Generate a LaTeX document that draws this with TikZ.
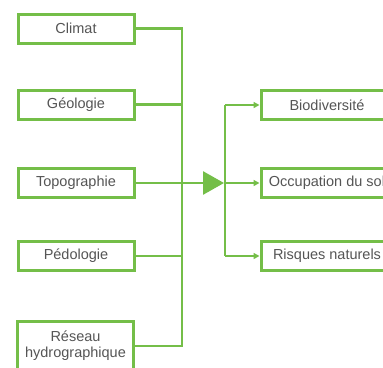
\documentclass[tikz,border=0pt]{standalone}
\usepackage{fontspec}
\setmainfont{Liberation Sans}
\usetikzlibrary{arrows.meta}
\definecolor{grn}{RGB}{116,190,72}
\definecolor{txt}{RGB}{85,85,85}
\tikzset{
  box/.style={draw=grn, line width=3pt, fill=white, minimum width=116pt, minimum height=29pt, inner sep=0pt, text=txt, font=\fontsize{14.5}{16}\selectfont, align=center},
  rbox/.style={box, minimum width=132pt},
  link/.style={draw=grn, line width=2.8pt},
}
\begin{document}
\begin{tikzpicture}[x=1pt,y=-1pt]
\useasboundingbox (0,0) rectangle (383,367);
\clip (0,0) rectangle (383,367);
\fill[white] (0,0) rectangle (383,367);
\coordinate (busA) at (182,0);
\coordinate (busB) at (225,0);
\node[box] (clim) at (76,28.5) {Climat};
\node[box] (geo) at (76,104.5) {Géologie};
\node[box] (topo) at (76,183) {Topographie};
\node[box] (pedo) at (76,256) {Pédologie};
\node[box, minimum height=50pt] (res) at (75.5,346) {Réseau\\hydrographique};
\node[rbox] (bio) at (327,105) {Biodiversité};
\node[rbox] (occ) at (327,183) {Occupation du sol};
\node[rbox] (ris) at (327,256) {Risques naturels};
\draw[link] (clim.east) -| (busA |- res.east) -- (res.east);
\draw[link] (geo.east) -- (busA |- geo.east);
\draw[link] (pedo.east) -- (busA |- pedo.east);
\draw[link, -{Triangle[length=21pt,width=23pt]}] (topo.east) -- ([xshift=-1pt]busB |- topo.east);
\draw[link] (busB |- bio.west) -- (busB |- ris.west);
\draw[link, -{Triangle[length=6pt,width=6pt]}] (busB |- bio.west) -- (bio.west);
\draw[link, -{Triangle[length=6pt,width=6pt]}] (busB |- occ.west) -- (occ.west);
\draw[link, -{Triangle[length=6pt,width=6pt]}] (busB |- ris.west) -- (ris.west);
\end{tikzpicture}
\end{document}
